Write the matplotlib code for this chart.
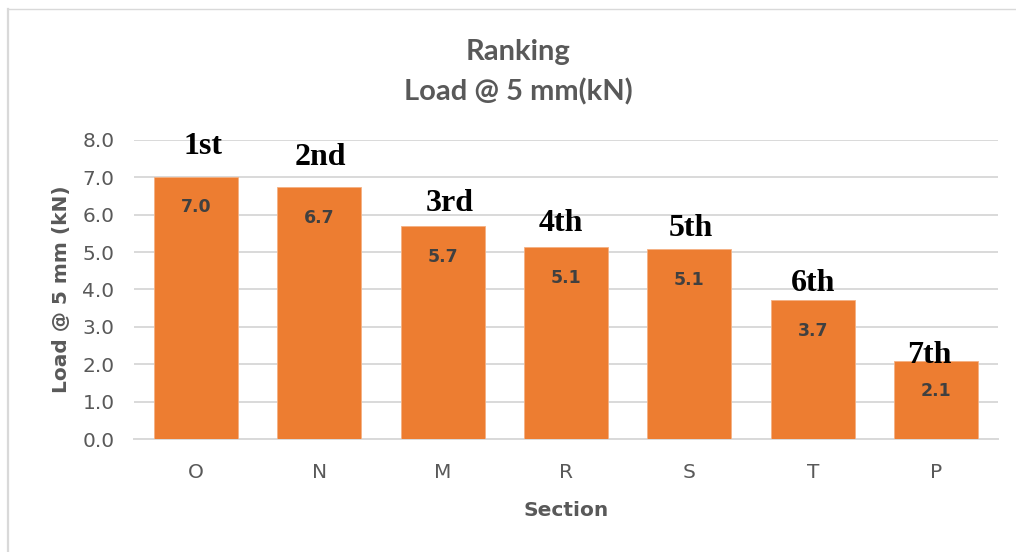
import matplotlib
matplotlib.use("Agg")
import matplotlib.pyplot as plt
from matplotlib.lines import Line2D

sections = ["O", "N", "M", "R", "S", "T", "P"]
load_kn = [7.02, 6.74, 5.70, 5.13, 5.08, 3.72, 2.09]
ranks = ["1st", "2nd", "3rd", "4th", "5th", "6th", "7th"]
yticks = [0.0, 1.0, 2.0, 3.0, 4.0, 5.0, 6.0, 7.0, 8.0]

# hand-placed offsets (points) of each rank label from its bar top centre
rank_dx = [5, 1, 5, -4, 1, 0, -5]
rank_dy = [22, 21, 16, 17, 15, 12, 4]

plt.rcParams["font.family"] = ["DejaVu Sans"]
grey = "#595959"

fig = plt.figure(figsize=(10.16, 5.52), dpi=100)
ax = fig.add_axes([0.1319, 0.2047, 0.8504, 0.5417])

x = range(len(sections))
ax.bar(x, load_kn, width=0.68, color="#ED7D31", edgecolor="#F4B183", lw=0.6, zorder=3)

for i, v in enumerate(load_kn):
    ax.annotate(f"{v:.1f}", (i, v), xytext=(0, -22), textcoords="offset points",
                ha="center", va="center", fontsize=12.5, fontweight="bold", color="#404040", zorder=4)
    ax.annotate(ranks[i], (i, v), xytext=(rank_dx[i], rank_dy[i]), textcoords="offset points",
                ha="center", va="center", fontsize=23, fontweight="bold", color="black",
                family="Liberation Serif", zorder=4)

ax.set_xlim(-0.5, len(sections) - 0.5)
ax.set_ylim(0, 8)
ax.set_yticks(yticks)
ax.set_yticklabels([f"{t:.1f}" for t in yticks])
ax.set_xticks(list(x))
ax.set_xticklabels(sections)
ax.tick_params(axis="both", length=0, labelsize=14.5, labelcolor=grey)
ax.tick_params(axis="x", pad=17)
ax.tick_params(axis="y", pad=14)
ax.grid(axis="y", color="#D9D9D9", lw=1.4, zorder=0)
for s in ["top", "right", "left"]:
    ax.spines[s].set_visible(False)
ax.spines["bottom"].set_color("#D9D9D9")
ax.spines["bottom"].set_linewidth(1.4)

ax.set_xlabel("Section", fontsize=14.5, fontweight="bold", color=grey, labelpad=14)
ax.set_ylabel("Load @ 5 mm (kN)", fontsize=14.5, fontweight="bold", color=grey, labelpad=8)

fig.text(0.51, 0.905, "Ranking", ha="center", va="center", fontsize=21,
         fontweight="bold", color=grey, family="Lato")
fig.text(0.51, 0.834, "Load @ 5 mm(kN)", ha="center", va="center", fontsize=21,
         fontweight="bold", color=grey, family="Lato")

# chart area border (left and top edges visible)
fig.add_artist(Line2D([0.0075, 0.0075], [0.0, 0.983], color="#D9D9D9", lw=1.6, transform=fig.transFigure))
fig.add_artist(Line2D([0.0075, 1.0], [0.983, 0.983], color="#D9D9D9", lw=1.0, transform=fig.transFigure))

fig.savefig("out.png", dpi=100)
